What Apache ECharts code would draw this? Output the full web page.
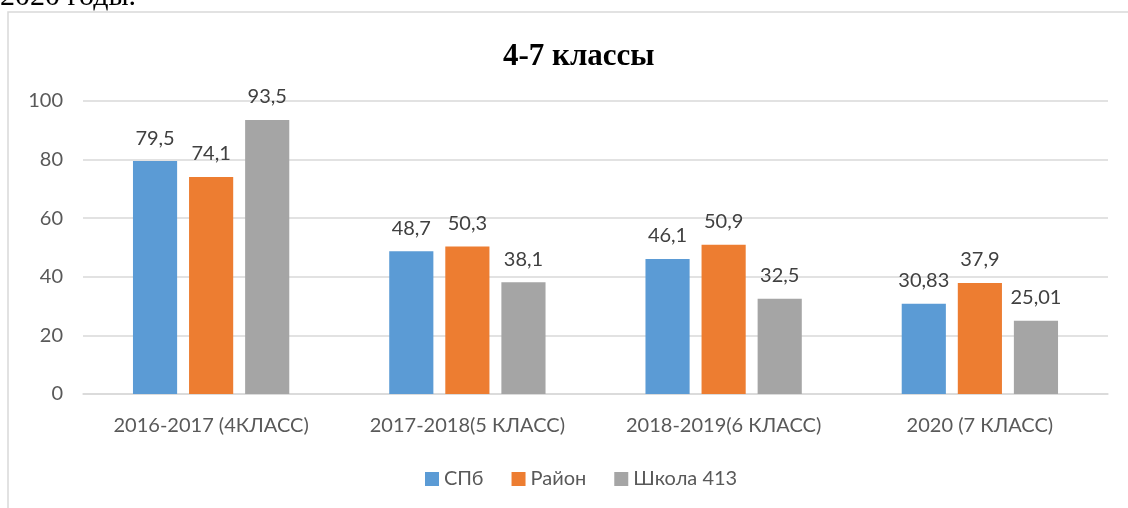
<!DOCTYPE html>
<html>
<head>
<meta charset="utf-8">
<script src="https://cdn.jsdelivr.net/npm/echarts@6/dist/echarts.min.js"></script>
<style>
    html, body { margin: 0; padding: 0; background: #fff; }
    #chart { width: 1128px; height: 508px; }
</style>
</head>
<body>
<div id="chart"></div>
<script>
const categories = ["2016-2017 (4КЛАСС)", "2017-2018(5 КЛАСС)", "2018-2019(6 КЛАСС)", "2020 (7 КЛАСС)"];
const spbValues = [79.5, 48.7, 46.1, 30.83];
const rayonValues = [74.1, 50.3, 50.9, 37.9];
const schoolValues = [93.5, 38.1, 32.5, 25.01];
const yTicks = { min: 0, max: 100, interval: 20 };

const labelFont = "Lato, 'Noto Sans', sans-serif";

function barSeries(name, data, color) {
    return {
        type: "bar",
        name: name,
        data: data,
        barGap: "27%",
        barCategoryGap: "39%",
        itemStyle: { color: color },
        label: {
            show: true,
            position: "top",
            distance: 13,
            color: "#404040",
            fontSize: 20,
            fontFamily: labelFont,
            formatter: (p) => String(p.value).replace(".", ","),
        },
    };
}

const chart = echarts.init(document.getElementById("chart"));
chart.setOption({
    animation: false,
    title: {
        text: "4-7 классы",
        left: 498,
        top: 36,
        textStyle: {
            fontFamily: "'Liberation Serif', 'DejaVu Serif', serif",
            fontWeight: "bold",
            fontSize: 31,
            color: "#000",
        },
    },
    graphic: [
        {
            type: "rect",
            shape: { x: 8, y: 12, width: 1300, height: 700 },
            style: { fill: "none", stroke: "#d9d9d9", lineWidth: 1.5 },
            silent: true,
        },
        {
            type: "text",
            left: 0,
            top: -18,
            style: {
                text: "2020 годы.",
                font: "30px 'Liberation Serif', serif",
                fill: "#000",
            },
        },
    ],
    legend: {
        bottom: 14,
        left: 420,
        itemWidth: 14,
        itemHeight: 14,
        itemGap: 28,
        icon: "rect",
        textStyle: { color: "#595959", fontSize: 20, fontFamily: labelFont },
    },
    grid: { left: 83, right: 20, top: 101, bottom: 114 },
    xAxis: {
        type: "category",
        data: categories,
        axisTick: { show: false },
        axisLine: { lineStyle: { color: "#d9d9d9", width: 1.5 } },
        axisLabel: { color: "#595959", fontSize: 20, fontFamily: labelFont, margin: 22 },
    },
    yAxis: {
        type: "value",
        min: yTicks.min,
        max: yTicks.max,
        interval: yTicks.interval,
        axisLine: { show: false },
        axisTick: { show: false },
        splitLine: { lineStyle: { color: "#d9d9d9", width: 1.5 } },
        axisLabel: { color: "#595959", fontSize: 20, fontFamily: labelFont, margin: 20 },
    },
    series: [
        barSeries("СПб", spbValues, "#5B9BD5"),
        barSeries("Район", rayonValues, "#ED7D31"),
        barSeries("Школа 413", schoolValues, "#A5A5A5"),
    ],
});
</script>
</body>
</html>
